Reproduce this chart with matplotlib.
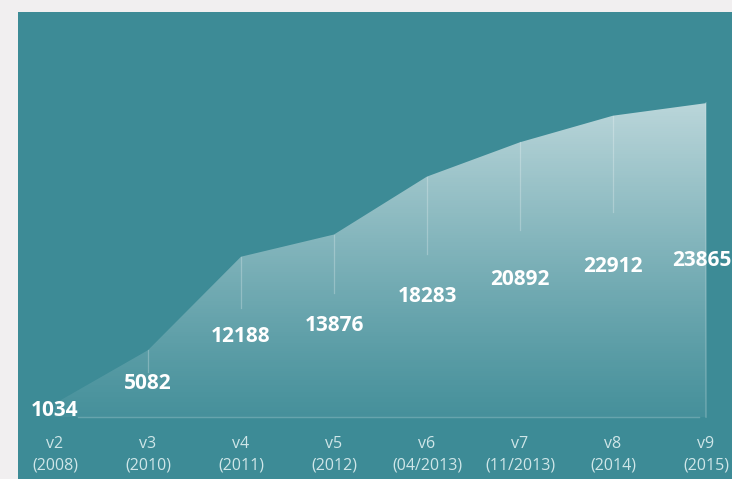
import matplotlib
matplotlib.use("Agg")
import matplotlib.pyplot as plt
import matplotlib.transforms as mtransforms
import numpy as np
from matplotlib.patches import Polygon

versions = ["v2", "v3", "v4", "v5", "v6", "v7", "v8", "v9"]
dates = ["(2008)", "(2010)", "(2011)", "(2012)", "(04/2013)", "(11/2013)", "(2014)", "(2015)"]
values = [1034, 5082, 12188, 13876, 18283, 20892, 22912, 23865]

BG = "#f1eff0"
TEAL = "#3d8b96"

W, H = 732, 479
fig = plt.figure(figsize=(W / 100, H / 100), dpi=100, facecolor=BG)
ax = fig.add_axes([18 / W, 0, (W - 18) / W, (H - 12) / H])
ax.set_facecolor(TEAL)
for s in ax.spines.values():
    s.set_visible(False)
ax.set_xticks([])
ax.set_yticks([])

x = np.arange(len(values))
ax.set_xlim(-0.398, 7.28)
ax.set_ylim(-4715, 30798)

# gradient fill clipped to area polygon
verts = [(x[0], 0)] + list(zip(x, values)) + [(x[-1], 0)]
poly = Polygon(verts, closed=True, facecolor="none", edgecolor="none")
ax.add_patch(poly)
ymax = max(values)
grad = np.linspace(0, 1, 256).reshape(-1, 1)
rgba = np.ones((256, 1, 4))
rgba[..., 3] = 0.05 + 0.6 * grad[:, :] ** 1.1
img = ax.imshow(rgba, extent=[x[0], x[-1], 0, ymax], origin="lower",
                aspect="auto", interpolation="bicubic", zorder=1)
img.set_clip_path(poly)

# right edge highlight
ax.plot([x[-1], x[-1]], [0, values[-1]], color="white", alpha=0.2, lw=1.2, zorder=2)

# baseline
ax.plot([0.25, 6.92], [0, 0], color="white", alpha=0.22, lw=1.0, zorder=2)

# vertical lines
for xi, v in zip(x[1:-1], values[1:-1]):
    ax.plot([xi, xi], [v, v * 0.68], color="white", alpha=0.25, lw=0.9, zorder=2)

# value labels
n = len(values)
for i, (xi, v) in enumerate(zip(x, values)):
    tr = ax.transData
    if i == n - 1:
        tr = ax.transData + mtransforms.ScaledTranslation(-4 / 100, 0, fig.dpi_scale_trans)
    ax.text(xi, v / 2, str(v), ha="center", va="center", color="white",
            fontsize=15, fontweight="bold", family="Open Sans", zorder=3,
            clip_on=False, transform=tr)

# category labels
for xi, vname, d in zip(x, versions, dates):
    ax.text(xi, -2050, vname, ha="center", va="center", color="#cfe6e8",
            fontsize=11.5, family="Open Sans")
    ax.text(xi, -3720, d, ha="center", va="center", color="#cfe6e8",
            fontsize=11.5, family="Open Sans")

fig.savefig("out.png", dpi=100, facecolor=BG)
